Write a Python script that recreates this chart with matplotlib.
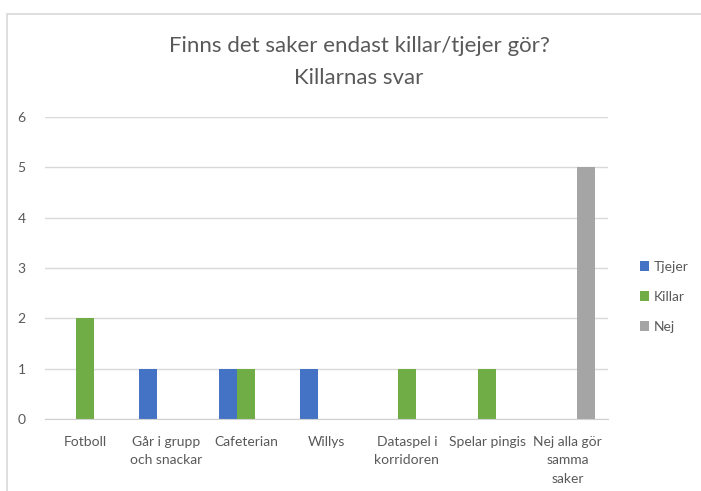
import matplotlib.pyplot as plt
import numpy as np
from matplotlib.patches import Rectangle

# Data
categories = ['Fotboll', 'Går i grupp\noch snackar', 'Cafeterian', 'Willys',
              'Dataspel i\nkorridoren', 'Spelar pingis', 'Nej alla gör\nsamma\nsaker']
tjejer = [0, 1, 1, 1, 0, 0, 0]
killar = [2, 0, 1, 0, 1, 1, 0]
nej = [0, 0, 0, 0, 0, 0, 5]
series_names = ['Tjejer', 'Killar', 'Nej']

plt.rcParams['font.family'] = ['Lato', 'DejaVu Sans']

fig = plt.figure(figsize=(7.01, 4.91), dpi=100)
ax = fig.add_axes([45/701, 1 - 419/491, (608 - 45)/701, (419 - 117)/491])

# chart frame like Excel
fig.patches.append(Rectangle((7/701, -0.1), 1.2, 1 - 14/491 + 0.1, transform=fig.transFigure,
                             fill=False, edgecolor='#d9d9d9', linewidth=1.2))

x = np.arange(len(categories))
w = 1 / 4.5
colors = ['#4472C4', '#70AD47', '#A5A5A5']
for i, (vals, name) in enumerate(zip([tjejer, killar, nej], series_names)):
    ax.bar(x + (i - 1) * w, vals, w, color=colors[i], label=name, zorder=3)

ax.set_xlim(-0.5, len(categories) - 0.5)
ax.set_ylim(0, 6)
ax.set_yticks(range(0, 7))
ax.set_xticks(x)
ax.set_xticklabels(categories, fontsize=10, color='#595959', linespacing=1.65)
ax.tick_params(axis='y', labelsize=10, labelcolor='#595959', length=0, pad=14)
ax.tick_params(axis='x', length=0, pad=12)
ax.grid(axis='y', color='#d9d9d9', linewidth=1, zorder=0)
for s in ['top', 'right', 'left']:
    ax.spines[s].set_visible(False)
ax.spines['bottom'].set_color('#d0d0d0')
ax.spines['bottom'].set_zorder(4)

fig.text(359/701, 1 - 46/491, 'Finns det saker endast killar/tjejer gör?', ha='center', va='center',
         fontsize=16, color='#595959')
fig.text(359/701, 1 - 78/491, 'Killarnas svar', ha='center', va='center',
         fontsize=16, color='#595959')

ax.legend(loc='center left', bbox_to_anchor=(627/701, 1 - 297/491), bbox_transform=fig.transFigure,
          frameon=False, fontsize=10, labelcolor='#595959', handlelength=0.7, handleheight=0.7,
          handletextpad=0.3, labelspacing=1.3)

fig.savefig('out.png', dpi=100)
